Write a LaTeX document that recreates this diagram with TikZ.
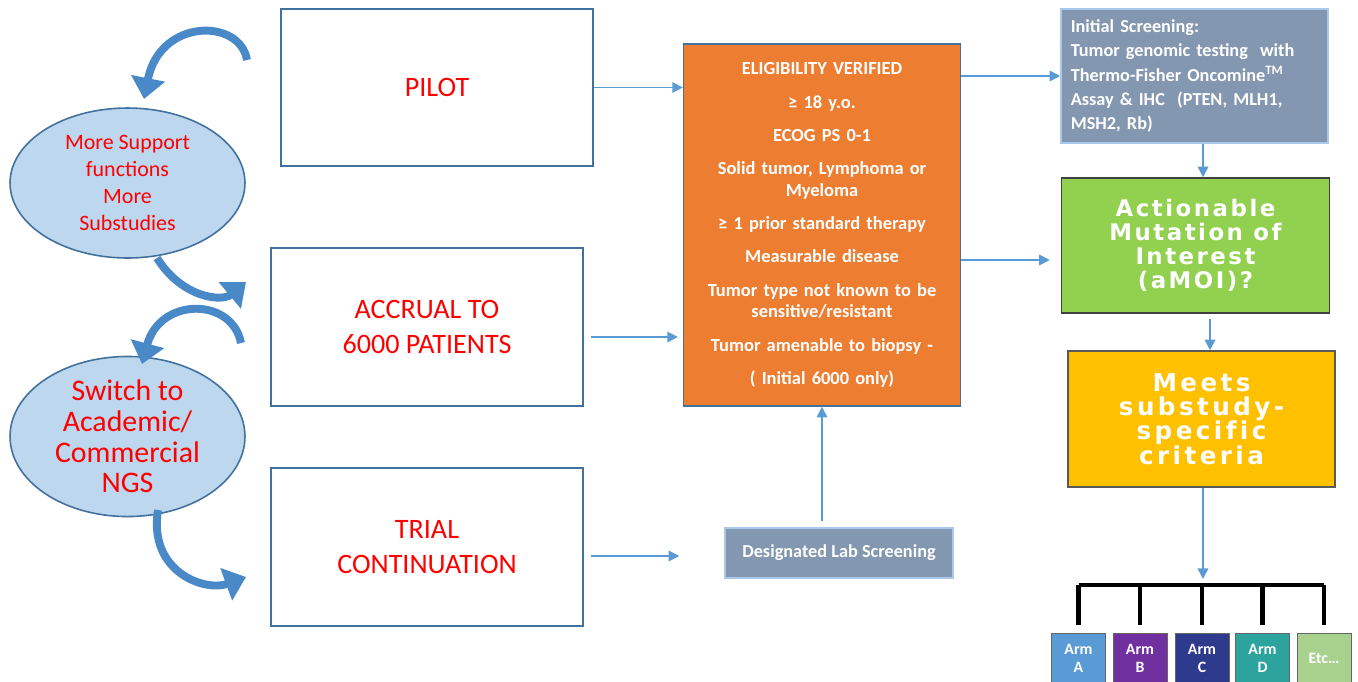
\documentclass[tikz,border=0pt]{standalone}
\usepackage{fontspec}
\setmainfont{Carlito}
\newfontfamily\copperfont[LetterSpace=11, Ligatures=NoCommon]{DejaVu Sans}
\usetikzlibrary{arrows.meta,shapes.geometric}
\definecolor{BoxEdge}{HTML}{41719C}
\definecolor{TextRed}{HTML}{FF0000}
\definecolor{EllFill}{HTML}{BDD7EE}
\definecolor{LinkBlue}{HTML}{5B9BD5}
\definecolor{CurveBlue}{HTML}{4A89C8}
\definecolor{EligOrange}{HTML}{ED7D31}
\definecolor{SlateBox}{HTML}{8497B0}
\definecolor{SlateEdge}{HTML}{A9C8EA}
\definecolor{MoiGreen}{HTML}{92D050}
\definecolor{SubGold}{HTML}{FFC000}
\definecolor{ArmA}{HTML}{5B9BD5}
\definecolor{ArmB}{HTML}{7030A0}
\definecolor{ArmC}{HTML}{2E3A8C}
\definecolor{ArmD}{HTML}{2CA39D}
\definecolor{ArmE}{HTML}{A9D18E}
\newcommand{\armbox}[4]{% name, x, colour, label
  \node[armstyle, fill=#3] (#1) at (#2,633) {#4};
}
\tikzset{
  phasebox/.style={draw=BoxEdge, line width=1.1pt, fill=white, minimum width=6.24cm,
    minimum height=3.16cm, text=TextRed, align=center, font=\fontsize{16}{19.8}\selectfont},
  bubble/.style={ellipse, draw=BoxEdge, line width=0.9pt, fill=EllFill, minimum width=4.7cm,
    text=TextRed, align=center, inner sep=0pt},
  slate/.style={draw=SlateEdge, line width=0.9pt, fill=SlateBox, text=white,
    font=\bfseries\fontsize{10.4}{13.9}\selectfont},
  bigbox/.style={draw=black!75, line width=0.9pt, minimum width=5.36cm, minimum height=2.7cm,
    text=white, align=center, font=\copperfont\bfseries\fontsize{13}{13.6}\selectfont},
  armstyle/.style={draw=black!60, line width=0.5pt, anchor=north, minimum width=1.08cm,
    minimum height=1.0cm, text=white, align=center, font=\bfseries\fontsize{9}{10.5}\selectfont},
  link/.style={draw=LinkBlue, line width=0.9pt, -{Triangle[width=6pt,length=6pt]}},
  curvearrow/.style={draw=CurveBlue, line width=4.5pt, -{Triangle[width=19pt,length=12pt]}},
  forkline/.style={draw=black, line width=2.6pt}
}
\begin{document}
\begin{tikzpicture}[x=0.02cm, y=-0.02cm]
\useasboundingbox (0,0) rectangle (1358,681);

% Study phases
\node[phasebox, minimum height=3.14cm] (pilot) at (437,87.5) {PILOT};
\node[phasebox] (accrual) at (427,327) {ACCRUAL TO\\6000 PATIENTS};
\node[phasebox] (trial) at (427,547) {TRIAL\\CONTINUATION};

% Transitions between phases
\node[bubble, minimum height=3.0cm, font=\fontsize{12.5}{15.3}\selectfont] (support) at (127.5,183)
  {More Support\\functions\\More\\Substudies};
\node[bubble, minimum height=2.86cm, font=\fontsize{17}{17.5}\selectfont] (switch) at (127.5,436.5)
  {Switch to\\Academic/\\Commercial\\NGS};
\draw[curvearrow] (247,60) .. controls (240,18) and (160,18) .. (144,99);
\draw[curvearrow] (157,258) .. controls (182,298) and (222,302) .. (246,282);
\draw[curvearrow] (241,343) .. controls (232,297) and (160,297) .. (142,364);
\draw[curvearrow] (158,510) .. controls (148,572) and (205,592) .. (246,577);

% Eligibility
\node[draw=BoxEdge, line width=0.9pt, fill=EligOrange, minimum width=5.48cm, minimum height=7.24cm,
  text width=5.3cm, align=center, text=white, font=\bfseries\fontsize{10.5}{12.5}\selectfont]
  (elig) at (822,225)
  {ELIGIBILITY VERIFIED\\[6.4pt]
   ≥ 18 y.o.\\[6.4pt]
   ECOG PS 0-1\\[6.4pt]
   Solid tumor, Lymphoma or\\Myeloma\\[6.4pt]
   ≥ 1 prior standard therapy\\[6.4pt]
   Measurable disease\\[6.4pt]
   Tumor type not known to be\\sensitive/resistant\\[6.4pt]
   Tumor amenable to biopsy -\\[6.4pt]
   ( Initial 6000 only)};
\node[slate, minimum width=4.56cm, minimum height=1.0cm] (lab) at (839,553) {Designated Lab Screening};

% Screening and assignment
\node[slate, minimum width=5.34cm, minimum height=2.68cm, text width=4.95cm, align=left] (screen) at (1194.5,76)
  {Initial Screening:\\Tumor genomic testing \ with\\Thermo-Fisher Oncomine\textsuperscript{TM}\\Assay \& IHC \ (PTEN, MLH1,\\MSH2, Rb)};
\node[bigbox, fill=MoiGreen] (action) at (1195.5,245.5)
  {Actionable\\Mutation of\\Interest\\(aMOI)?};
\node[bigbox, fill=SubGold, draw=black!65, minimum width=5.34cm, minimum height=2.72cm,
  font=\copperfont\addfontfeature{LetterSpace=14}\bfseries\fontsize{14}{13.8}\selectfont] (meets) at (1201.5,419)
  {Meets\\substudy-\\specific\\criteria};

% Treatment arms
\armbox{armA}{1078.5}{ArmA}{Arm\\A}
\armbox{armB}{1140}{ArmB}{Arm\\B}
\armbox{armC}{1202}{ArmC}{Arm\\C}
\armbox{armD}{1262.5}{ArmD}{Arm\\D}
\armbox{armE}{1324}{ArmE}{Etc…}
\coordinate (fork) at (1203,585);
\draw[forkline] (armA.north |- fork) -- (armE.north |- fork);
\foreach \a in {armA,armB,armC,armD,armE}
  \draw[forkline] (\a.north |- fork) -- ([yshift=0.16cm]\a.north);

% Flow arrows
\draw[link] (pilot.east) -- (elig.west |- pilot.east);
\draw[link, shorten <=0.14cm, shorten >=0.1cm] ([yshift=-0.2cm]accrual.east) -- ([yshift=-0.2cm]elig.west |- accrual.east);
\draw[link, shorten <=0.14cm, shorten >=0.9cm] ([yshift=-0.18cm]trial.east) -- ([yshift=-0.18cm]lab.west |- trial.east);
\draw[link, shorten <=0.12cm] (lab.north -| elig.south) -- (elig.south);
\draw[link] (elig.east |- screen.west) -- (screen.west);
\draw[link, shorten >=0.22cm] ([yshift=-0.29cm]elig.east |- action.west) -- ([yshift=-0.29cm]action.west);
\draw[link] ([xshift=0.17cm]screen.south) -- ([xshift=0.17cm]screen.south |- action.north);
\draw[link, shorten <=0.1cm] ([xshift=0.29cm]action.south) -- ([xshift=0.29cm]action.south |- meets.north);
\draw[link, shorten >=0.12cm] (meets.south -| fork) -- (fork);

\end{tikzpicture}
\end{document}
